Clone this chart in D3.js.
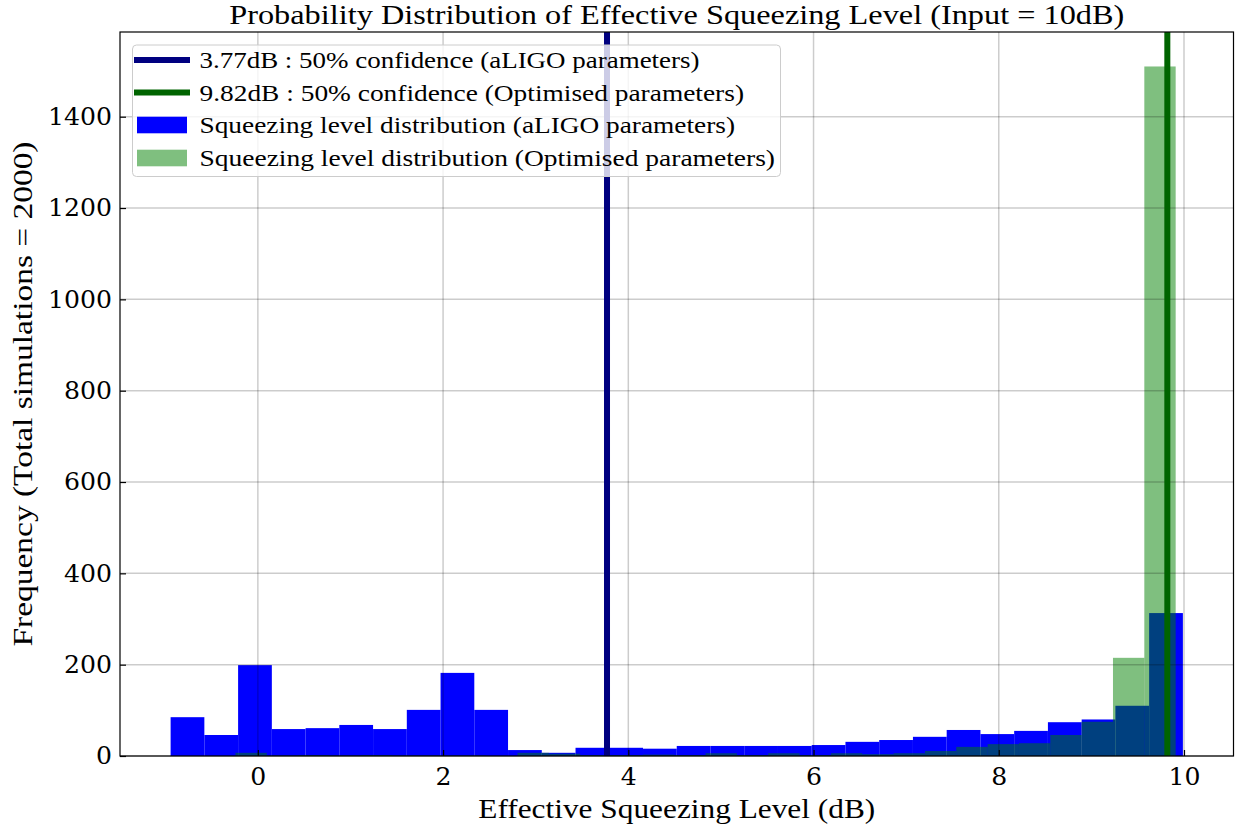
<!DOCTYPE html>
<html>
<head>
<meta charset="utf-8">
<script src="https://cdn.jsdelivr.net/npm/d3@7"></script>
<style>
  body { margin: 0; background: #ffffff; }
  svg { display: block; }
</style>
</head>
<body>
<svg id="chart" width="1239" height="831"></svg>
<script>
// ---- data ----
const xTicks = [0, 2, 4, 6, 8, 10];
const yTicks = [0, 200, 400, 600, 800, 1000, 1200, 1400];

// aLIGO parameters: 30 equal-width bins over this range
const blueRange = [-0.942, 9.988];
const blueCounts = [85, 46, 199, 59, 61, 68, 59, 101, 182, 101,
                    13, 7, 18, 18, 16, 22, 22, 22, 22, 24,
                    31, 35, 42, 57, 48, 55, 74, 80, 110, 313];

// Optimised parameters: 30 equal-width bins over this range
const greenRange = [-0.242, 9.910];
const greenCounts = [7, 1, 2, 1, 2, 1, 1, 1, 0, 7,
                     5, 2, 2, 3, 2, 6, 2, 6, 2, 6,
                     4, 6, 11, 20, 26, 28, 46, 75, 215, 1510];

// 50% confidence levels (dB)
const medians = [3.77, 9.82];

const legendLabels = [
  "3.77dB : 50% confidence (aLIGO parameters)",
  "9.82dB : 50% confidence (Optimised parameters)",
  "Squeezing level distribution (aLIGO parameters)",
  "Squeezing level distribution (Optimised parameters)"
];
const titleText = "Probability Distribution of Effective Squeezing Level (Input = 10dB)";
const xLabelText = "Effective Squeezing Level (dB)";
const yLabelText = "Frequency (Total simulations = 2000)";

// ---- layout ----
const plot = { left: 120, right: 1233.5, top: 32, bottom: 756 };
const serif = "'Liberation Serif', 'Times New Roman', serif";
const numFont = "'DejaVu Serif', serif";

const svg = d3.select("#chart");

function toBins(range, counts) {
  const w = (range[1] - range[0]) / counts.length;
  return counts.map((n, i) => ({ x0: range[0] + i * w, x1: range[0] + (i + 1) * w, n }));
}
const blueBins = toBins(blueRange, blueCounts);
const greenBins = toBins(greenRange, greenCounts);

const lo = Math.min(blueRange[0], greenRange[0]);
const hi = Math.max(blueRange[1], greenRange[1]);
const pad = 0.05 * (hi - lo);
const x = d3.scaleLinear().domain([lo - pad, hi + pad]).range([plot.left, plot.right]);
const yMax = d3.max([...blueCounts, ...greenCounts]) * 1.05;
const y = d3.scaleLinear().domain([0, yMax]).range([plot.bottom, plot.top]);

// ---- histograms ----
svg.append("g").selectAll("rect").data(blueBins).join("rect")
  .attr("x", d => x(d.x0))
  .attr("width", d => x(d.x1) - x(d.x0))
  .attr("y", d => y(d.n))
  .attr("height", d => y(0) - y(d.n))
  .attr("fill", "#0000ff");

svg.append("g").selectAll("rect").data(greenBins).join("rect")
  .attr("x", d => x(d.x0))
  .attr("width", d => x(d.x1) - x(d.x0))
  .attr("y", d => y(d.n))
  .attr("height", d => y(0) - y(d.n))
  .attr("fill", "#008000")
  .attr("fill-opacity", 0.5);

// ---- grid ----
const grid = svg.append("g").attr("stroke", "#000").attr("stroke-opacity", 0.2).attr("stroke-width", 1.5);
grid.selectAll(".gx").data(xTicks).join("line")
  .attr("x1", d => x(d)).attr("x2", d => x(d))
  .attr("y1", plot.top).attr("y2", plot.bottom);
grid.selectAll(".gy").data(yTicks).join("line")
  .attr("x1", plot.left).attr("x2", plot.right)
  .attr("y1", d => y(d)).attr("y2", d => y(d));

// ---- confidence lines ----
const lineColors = ["#000080", "#006400"];
svg.append("g").selectAll("line").data(medians).join("line")
  .attr("x1", d => x(d)).attr("x2", d => x(d))
  .attr("y1", plot.top).attr("y2", plot.bottom)
  .attr("stroke", (d, i) => lineColors[i])
  .attr("stroke-width", 6);

// ---- axes (ticks point inward) ----
const xAxis = svg.append("g")
  .attr("transform", `translate(0,${plot.bottom})`)
  .call(d3.axisBottom(x).tickValues(xTicks).tickSize(-6).tickPadding(12).tickFormat(d3.format("d")));
const yAxis = svg.append("g")
  .attr("transform", `translate(${plot.left},0)`)
  .call(d3.axisLeft(y).tickValues(yTicks).tickSize(-6).tickPadding(8).tickFormat(d3.format("d")));
[xAxis, yAxis].forEach(a => {
  a.select(".domain").remove();
  a.selectAll(".tick line").attr("stroke", "#000").attr("stroke-width", 1.2);
  a.selectAll(".tick text")
    .attr("font-family", numFont).attr("font-size", 24).attr("fill", "#000")
    .attr("textLength", function () { return 16 * this.textContent.length; })
    .attr("lengthAdjust", "spacingAndGlyphs");
});

// frame
svg.append("rect")
  .attr("x", plot.left).attr("y", plot.top)
  .attr("width", plot.right - plot.left).attr("height", plot.bottom - plot.top)
  .attr("fill", "none").attr("stroke", "#000").attr("stroke-width", 1.2);

// ---- titles ----
svg.append("text")
  .attr("x", (plot.left + plot.right) / 2).attr("y", 24)
  .attr("text-anchor", "middle")
  .attr("font-family", serif).attr("font-size", 27)
  .attr("textLength", 895).attr("lengthAdjust", "spacingAndGlyphs")
  .text(titleText);

svg.append("text")
  .attr("x", (plot.left + plot.right) / 2).attr("y", 818)
  .attr("text-anchor", "middle")
  .attr("font-family", serif).attr("font-size", 27)
  .attr("textLength", 397).attr("lengthAdjust", "spacingAndGlyphs")
  .text(xLabelText);

svg.append("text")
  .attr("transform", `translate(32,${(plot.top + plot.bottom) / 2}) rotate(-90)`)
  .attr("text-anchor", "middle")
  .attr("font-family", serif).attr("font-size", 27)
  .attr("textLength", 505).attr("lengthAdjust", "spacingAndGlyphs")
  .text(yLabelText);

// ---- legend ----
const legend = svg.append("g");
legend.append("rect")
  .attr("x", 132.5).attr("y", 45).attr("width", 648).attr("height", 131.5)
  .attr("rx", 4)
  .attr("fill", "#fff").attr("fill-opacity", 0.8)
  .attr("stroke", "#cccccc").attr("stroke-width", 1);

const rowY = [60, 92.5, 125, 158];
const textLengths = [500, 544.5, 535.5, 575.5];
const legendItems = [
  { type: "line", color: lineColors[0] },
  { type: "line", color: lineColors[1] },
  { type: "patch", color: "#0000ff", opacity: 1 },
  { type: "patch", color: "#008000", opacity: 0.5 }
];
legendItems.forEach((it, i) => {
  const cy = rowY[i];
  if (it.type === "line") {
    legend.append("line")
      .attr("x1", 134).attr("x2", 190).attr("y1", cy).attr("y2", cy)
      .attr("stroke", it.color).attr("stroke-width", 6);
  } else {
    legend.append("rect")
      .attr("x", 137).attr("y", cy - 8.3).attr("width", 50).attr("height", 16.6)
      .attr("fill", it.color).attr("fill-opacity", it.opacity);
  }
  legend.append("text")
    .attr("x", 199.5).attr("y", cy + 8.3)
    .attr("font-family", serif).attr("font-size", 24)
    .attr("textLength", textLengths[i]).attr("lengthAdjust", "spacingAndGlyphs")
    .text(legendLabels[i]);
});
</script>
</body>
</html>
